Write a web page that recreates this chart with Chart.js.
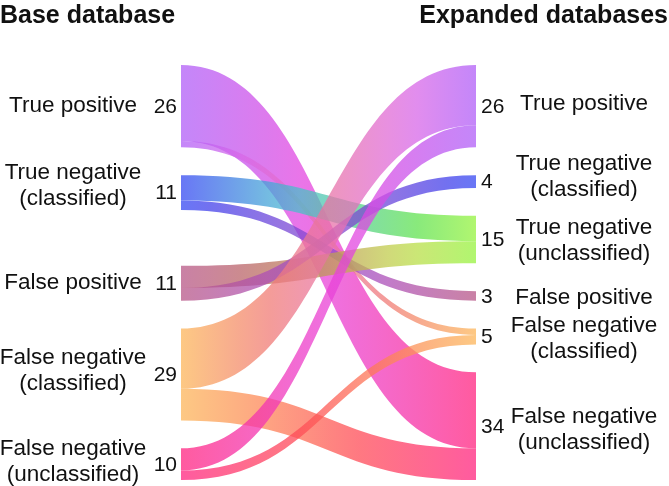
<!DOCTYPE html>
<html>
<head>
<meta charset="utf-8">
<script src="https://cdn.jsdelivr.net/npm/chart.js@4/dist/chart.umd.min.js"></script>
<style>
  html, body { margin: 0; padding: 0; background: #fff; }
  #wrap { width: 669px; height: 486px; position: relative; }
</style>
</head>
<body>
<div id="wrap"><canvas id="sankey"></canvas></div>
<script>
// 左右のノード
const leftTitle = 'Base database';
const rightTitle = 'Expanded databases';
const leftNames = [
  ['True positive'],
  ['True negative', '(classified)'],
  ['False positive'],
  ['False negative', '(classified)'],
  ['False negative', '(unclassified)']
];
const leftValues = [26, 11, 11, 29, 10];
const rightNames = [
  ['True positive'],
  ['True negative', '(classified)'],
  ['True negative', '(unclassified)'],
  ['False positive'],
  ['False negative', '(classified)'],
  ['False negative', '(unclassified)']
];
const rightValues = [26, 4, 15, 3, 5, 34];

// 流れ (左 -> 右)
const flowFrom  = [0, 0, 1, 1, 2, 2, 3, 3, 4, 4];
const flowTo    = [5, 4, 2, 3, 2, 1, 0, 5, 0, 4];
const flowValue = [24, 2, 8, 3, 7, 4, 19, 10, 7, 3];

// 色 (h, s, l)
const leftColors  = [[272, 91, 67], [234, 88, 58], [330, 40, 53], [34, 96, 67], [335, 100, 57]];
const rightColors = [[272, 91, 67], [234, 88, 58], [91, 88, 60], [330, 40, 53], [34, 96, 67], [335, 100, 57]];

// レイアウト (値の単位)
const gap = 8.8;
const leftGapWeights = [1, 2, 1, 1];
const yMax = 131;
const leftLabelShift = [0, -7, 0, -4, -2];
const rightLabelShift = [-2, -4.5, 1, 1.5, 2.5, 4];

function stack(values, weights) {
  const starts = [];
  let y = 0;
  values.forEach((v, i) => {
    starts.push(y);
    y += v + (i < values.length - 1 ? gap * weights[i] : 0);
  });
  return starts;
}
const leftStart = stack(leftValues, leftGapWeights);
const rightStart = stack(rightValues, rightValues.map(() => 1));

function hslToRgb(h, s, l) {
  s /= 100; l /= 100;
  const k = n => (n + h / 30) % 12;
  const a = s * Math.min(l, 1 - l);
  const f = n => l - a * Math.max(-1, Math.min(k(n) - 3, Math.min(9 - k(n), 1)));
  return [f(0) * 255, f(8) * 255, f(4) * 255];
}

// HSLとRGBの中間で混ぜる
function mix(a, b, t) {
  let dh = b[0] - a[0];
  if (dh > 180) dh -= 360;
  if (dh < -180) dh += 360;
  const h = (a[0] + dh * t + 360) % 360;
  const c1 = hslToRgb(h, a[1] + (b[1] - a[1]) * t, a[2] + (b[2] - a[2]) * t);
  const ra = hslToRgb(a[0], a[1], a[2]), rb = hslToRgb(b[0], b[1], b[2]);
  const c2 = ra.map((v, i) => v + (rb[i] - v) * t);
  const c = c1.map((v, i) => Math.round((v + c2[i]) / 2));
  return 'rgb(' + c.join(',') + ')';
}

const font = '"Liberation Sans", Arial, sans-serif';

const sankeyPlugin = {
  id: 'sankey',
  afterDatasetsDraw(chart) {
    const ctx = chart.ctx;
    const xs = chart.scales.x, ys = chart.scales.y;
    const x0 = xs.getPixelForValue(0), x1 = xs.getPixelForValue(1);
    const xm = (x0 + x1) / 2;

    const lOff = leftStart.slice();
    const rOff = rightStart.slice();

    ctx.save();
    ctx.globalAlpha = 0.75;
    for (let i = 0; i < flowValue.length; i++) {
      const s = flowFrom[i], t = flowTo[i], v = flowValue[i];
      const sy0 = ys.getPixelForValue(lOff[s]);
      const sy1 = ys.getPixelForValue(lOff[s] + v);
      const ty0 = ys.getPixelForValue(rOff[t]);
      const ty1 = ys.getPixelForValue(rOff[t] + v);
      lOff[s] += v;
      rOff[t] += v;

      const grad = ctx.createLinearGradient(x0, 0, x1, 0);
      for (let k = 0; k <= 10; k++) {
        grad.addColorStop(k / 10, mix(leftColors[s], rightColors[t], k / 10));
      }
      ctx.fillStyle = grad;
      ctx.beginPath();
      ctx.moveTo(x0, sy0);
      ctx.bezierCurveTo(xm, sy0, xm, ty0, x1, ty0);
      ctx.lineTo(x1, ty1);
      ctx.bezierCurveTo(xm, ty1, xm, sy1, x0, sy1);
      ctx.closePath();
      ctx.fill();
    }
    ctx.restore();

    // ラベル
    ctx.save();
    ctx.fillStyle = '#111';
    ctx.textBaseline = 'middle';
    const lineH = 26;
    const drawBlock = (lines, cx, cy) => {
      const top = cy - (lines.length - 1) * lineH / 2;
      lines.forEach((ln, k) => ctx.fillText(ln, cx, top + k * lineH));
    };

    leftValues.forEach((v, i) => {
      const mid = ys.getPixelForValue(leftStart[i] + v / 2);
      ctx.font = '21px ' + font;
      ctx.textAlign = 'right';
      ctx.fillText(String(v), x0 - 4, mid + 1);
      ctx.font = '22.5px ' + font;
      ctx.textAlign = 'center';
      drawBlock(leftNames[i], 73, mid + leftLabelShift[i]);
    });
    rightValues.forEach((v, i) => {
      const mid = ys.getPixelForValue(rightStart[i] + v / 2);
      ctx.font = '21px ' + font;
      ctx.textAlign = 'left';
      ctx.fillText(String(v), x1 + 5, mid + 1);
      ctx.font = '22.5px ' + font;
      ctx.textAlign = 'center';
      drawBlock(rightNames[i], 584, mid + rightLabelShift[i]);
    });

    // タイトル
    ctx.font = 'bold 25px ' + font;
    ctx.textBaseline = 'alphabetic';
    ctx.textAlign = 'left';
    ctx.fillText(leftTitle, 0, 23);
    ctx.textAlign = 'right';
    ctx.fillText(rightTitle, 668, 23);
    ctx.restore();
  }
};

const ctx = document.getElementById('sankey').getContext('2d');
const myChart = new Chart(ctx, {
  type: 'scatter',
  data: {
    datasets: [
      {
        data: leftValues.map((v, i) => ({ x: 0, y: leftStart[i] + v / 2 }))
          .concat(rightValues.map((v, i) => ({ x: 1, y: rightStart[i] + v / 2 }))),
        pointRadius: 0
      }
    ]
  },
  options: {
    responsive: true,
    maintainAspectRatio: false,
    animation: false,
    layout: { padding: { left: 181, right: 193, top: 65, bottom: 6 } },
    scales: {
      x: { type: 'linear', min: 0, max: 1, display: false },
      y: { type: 'linear', min: 0, max: yMax, reverse: true, display: false }
    },
    plugins: {
      legend: { display: false },
      tooltip: { enabled: false }
    }
  },
  plugins: [sankeyPlugin]
});
</script>
</body>
</html>
